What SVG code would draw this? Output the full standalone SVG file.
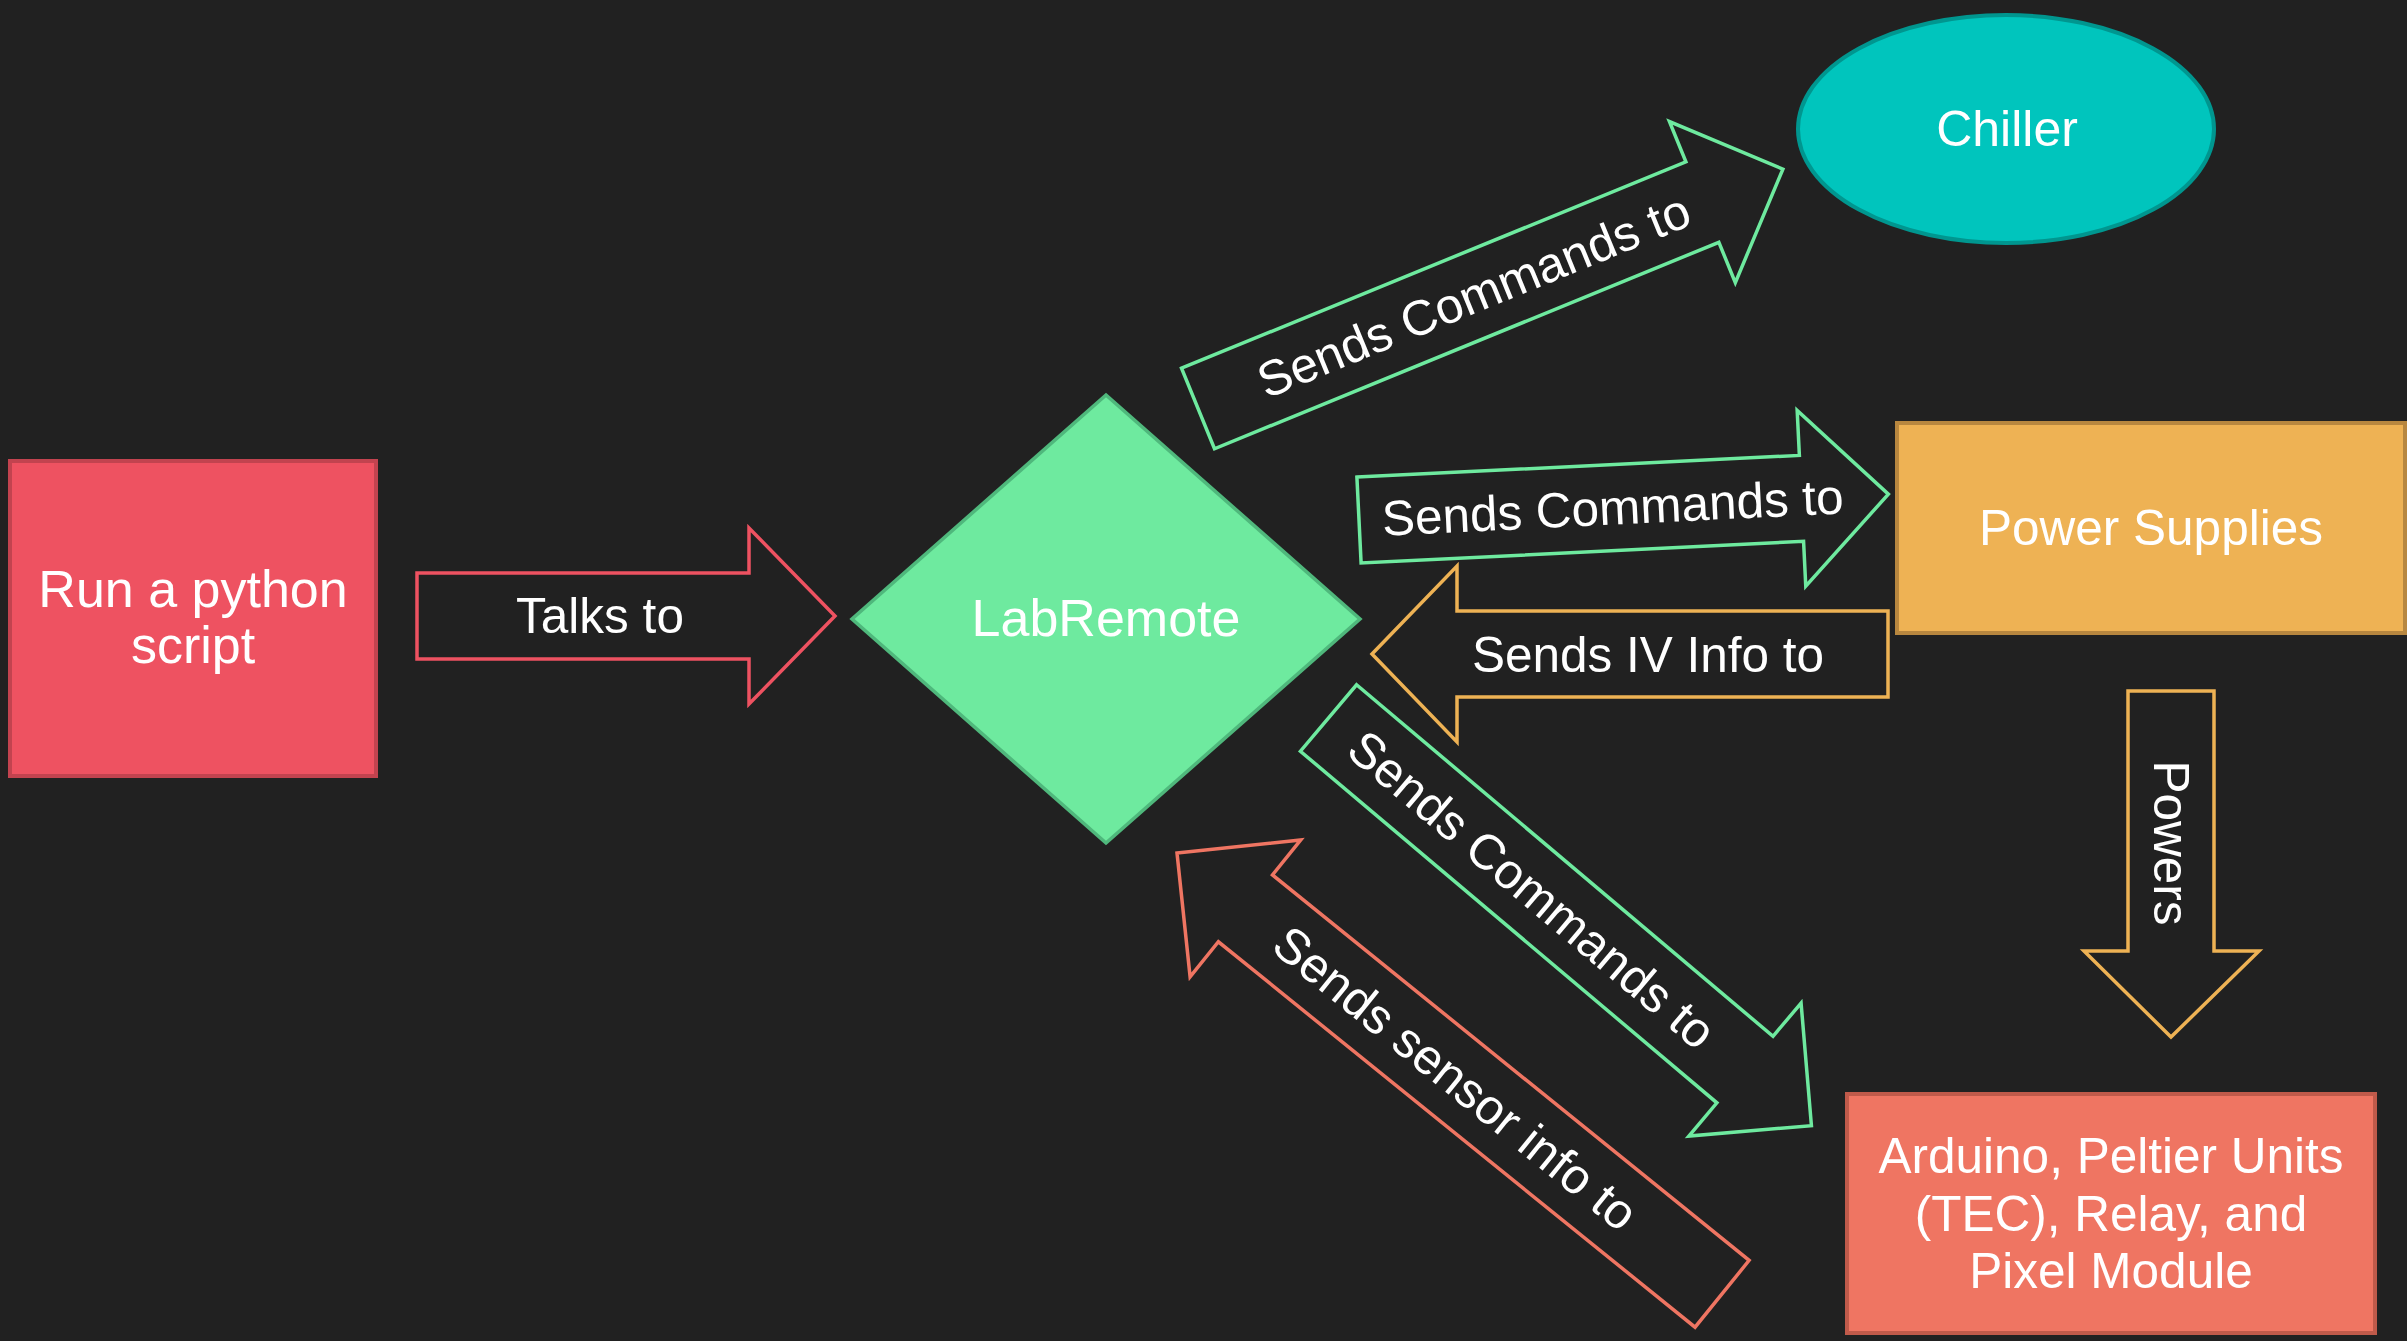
<svg xmlns="http://www.w3.org/2000/svg" width="2407" height="1341" viewBox="0 0 2407 1341">
  <style>
    .lbl { font-family: "Liberation Sans", Arial, sans-serif; font-size: 49.5px; fill: #ffffff; text-anchor: middle; }
    .big { font-size: 52px; }
    .arr { fill: #212121; stroke-width: 3.5; stroke-linejoin: miter; }
    .grn { stroke: #6eea9f; }
    .red { stroke: #ee5261; }
    .org { stroke: #eeb254; }
    .slm { stroke: #ef7562; }
  </style>
  <defs>
    <!-- long block arrow: body 0..545 (half-height 43.5), head 545..632 (half-height 87) -->
    <polygon id="longArrow" points="0,-43.5 545,-43.5 545,-87 632,0 545,87 545,43.5 0,43.5"/>
  </defs>

  <rect width="2407" height="1341" fill="#212121"/>

  <!-- nodes -->
  <g id="node-script">
    <rect x="10" y="461" width="366" height="315" fill="#ee5261" stroke="#c2434f" stroke-width="4"/>
    <text class="lbl big" x="193" y="607">Run a python</text>
    <text class="lbl big" x="193" y="663">script</text>
  </g>

  <g id="node-labremote">
    <polygon points="1106,395 1360,619 1106,843 852,619" fill="#6eea9f" stroke="#4fb87c" stroke-width="3.5"/>
    <text class="lbl big" x="1106" y="636">LabRemote</text>
  </g>

  <g id="node-chiller">
    <ellipse cx="2006" cy="129" rx="208" ry="114" fill="#00c5bd" stroke="#00968f" stroke-width="4"/>
    <text class="lbl" x="2007" y="146" style="font-size:50px">Chiller</text>
  </g>

  <g id="node-power">
    <rect x="1897" y="423" width="508" height="210" fill="#eeb254" stroke="#b8873f" stroke-width="4"/>
    <text class="lbl" x="2151" y="545">Power Supplies</text>
  </g>

  <g id="node-arduino">
    <rect x="1847" y="1094" width="528" height="239" fill="#ef7562" stroke="#c05a4a" stroke-width="4"/>
    <text class="lbl" x="2111" y="1173">Arduino, Peltier Units</text>
    <text class="lbl" x="2111" y="1231">(TEC), Relay, and</text>
    <text class="lbl" x="2111" y="1288">Pixel Module</text>
  </g>

  <!-- connectors: labelled block arrows -->
  <g id="connectors">
    <g id="edge-script-labremote">
      <polygon class="arr red" points="417,573 749,573 749,528 835,616 749,704 749,659 417,659"/>
      <text class="lbl" x="600" y="633">Talks to</text>
    </g>

    <g id="edge-labremote-chiller" transform="translate(1198,408.5) rotate(-22.26)">
      <use href="#longArrow" class="arr grn"/>
      <text class="lbl" x="298" y="17">Sends Commands to</text>
    </g>

    <g id="edge-labremote-power" transform="translate(1359,520) rotate(-2.8)">
      <polygon class="arr grn" points="0,-43 443,-43 443,-88 530,0 443,88 443,43 0,43"/>
      <text class="lbl" x="254" y="17">Sends Commands to</text>
    </g>

    <g id="edge-power-labremote">
      <polygon class="arr org" points="1372,654 1457,566 1457,611 1888,611 1888,697 1457,697 1457,742"/>
      <text class="lbl" x="1648" y="672">Sends IV Info to</text>
    </g>

    <g id="edge-labremote-arduino" transform="translate(1328.5,718) rotate(40.17)">
      <use href="#longArrow" class="arr grn"/>
      <text class="lbl" x="266" y="17">Sends Commands to</text>
    </g>

    <g id="edge-arduino-labremote" transform="translate(1177,853) rotate(38.96)">
      <polygon class="arr slm" points="0,0 88,-88 88,-43 701,-43 701,43 88,43 88,88"/>
      <text class="lbl" x="358" y="17">Sends sensor info to</text>
    </g>

    <g id="edge-power-arduino">
      <polygon class="arr org" points="2128,691 2214,691 2214,951 2259,951 2171,1037 2084,951 2128,951"/>
      <text class="lbl" transform="translate(2171,843) rotate(90)" x="0" y="17">Powers</text>
    </g>
  </g>
</svg>
